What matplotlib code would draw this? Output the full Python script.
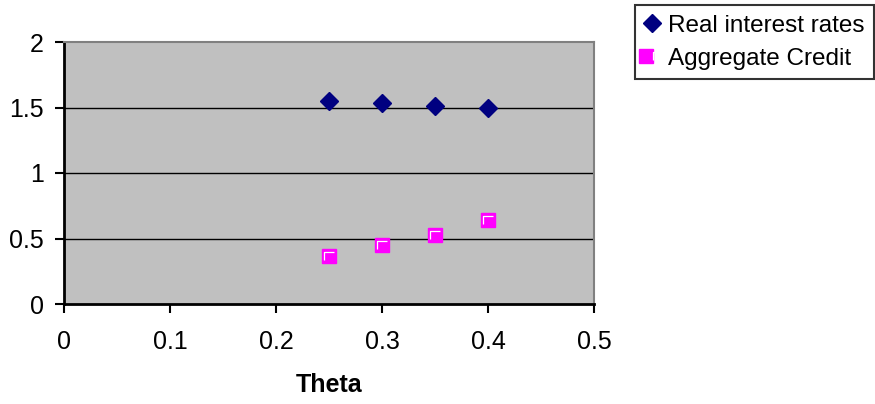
import matplotlib
matplotlib.use("Agg")
import matplotlib.pyplot as plt
from matplotlib.path import Path
from matplotlib.legend_handler import HandlerTuple

theta = [0.25, 0.30, 0.35, 0.40]
real_rates = [1.548, 1.535, 1.515, 1.495]
agg_credit = [0.37, 0.45, 0.525, 0.64]
xticks = [0, 0.1, 0.2, 0.3, 0.4, 0.5]
xticklabels = ["0", "0.1", "0.2", "0.3", "0.4", "0.5"]
yticks = [0, 0.5, 1, 1.5, 2]
yticklabels = ["0", "0.5", "1", "1.5", "2"]

plt.rcParams['font.family'] = ['Liberation Sans', 'DejaVu Sans']

fig = plt.figure(figsize=(8.75, 4.04), dpi=100)
ax = fig.add_axes([64/875, 1-304/404, (594-64)/875, (304-42)/404])
ax.set_facecolor('#C0C0C0')
ax.set_xlim(0, 0.5)
ax.set_ylim(0, 2)
for y in yticks[1:-1]:
    ax.axhline(y, color='black', lw=1, zorder=1)

d, = ax.plot(theta, real_rates, linestyle='none', marker='D', markersize=9.5,
             color='#000080', markeredgecolor='#000080', zorder=3)
s, = ax.plot(theta, agg_credit, linestyle='none', marker='s', markersize=10,
             color='#FF00FF', markeredgecolor='#FF00FF', zorder=3)
lpath = Path([(-0.5, -0.5), (0.5, 0.5), (-0.33, -0.26), (-0.33, 0.32), (0.35, 0.32)],
             [Path.MOVETO, Path.MOVETO, Path.MOVETO, Path.LINETO, Path.LINETO])
h, = ax.plot(theta, agg_credit, linestyle='none', marker=lpath, markersize=10,
             markerfacecolor='none', markeredgecolor='white', markeredgewidth=0.9, zorder=4)

ax.set_xticks(xticks)
ax.set_xticklabels(xticklabels, fontsize=18)
ax.set_yticks(yticks)
ax.set_yticklabels(yticklabels, fontsize=18)
ax.tick_params(axis='both', direction='out', length=6.5, width=1.5, color='black')
ax.tick_params(axis='x', pad=12)
ax.tick_params(axis='y', pad=8)
for sp in ['left', 'bottom']:
    ax.spines[sp].set_color('black')
    ax.spines[sp].set_linewidth(2)
for sp in ['top', 'right']:
    ax.spines[sp].set_color('#808080')
    ax.spines[sp].set_linewidth(1.5)
ax.set_xlabel('Theta', fontsize=18, fontweight='bold', labelpad=14)

leg = fig.legend([d, (s, h)], ['Real interest rates', 'Aggregate Credit'],
                 handler_map={tuple: HandlerTuple(ndivide=None)},
                 loc='upper left', bbox_to_anchor=(635/875, 1-5/404),
                 bbox_transform=fig.transFigure, fontsize=17.5, frameon=True,
                 fancybox=False, edgecolor='black', handlelength=0.6,
                 handletextpad=0.35, borderpad=0.4, labelspacing=0.45,
                 borderaxespad=0)
leg.get_frame().set_linewidth(1.5)

fig.savefig('out.png', dpi=100)
